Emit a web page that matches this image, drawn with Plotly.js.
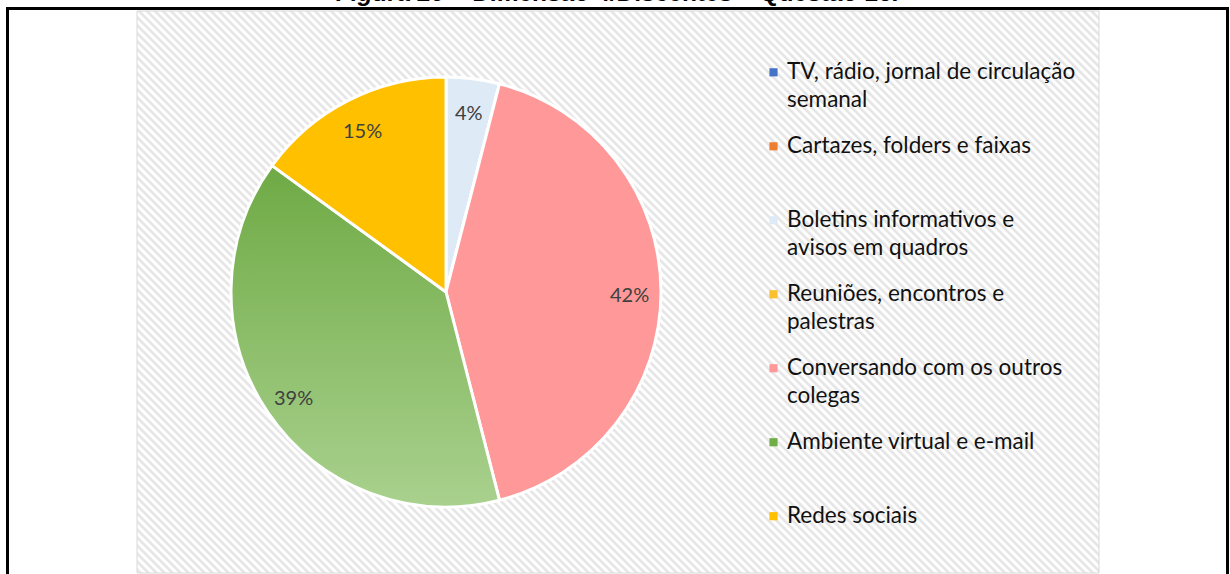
<!DOCTYPE html>
<html>
<head>
<meta charset="utf-8">
<script src="https://cdn.plot.ly/plotly-3.0.1.min.js"></script>
<style>
  html, body { margin: 0; padding: 0; background: #ffffff; }
  #chart { width: 1230px; height: 574px; }
</style>
</head>
<body>
<div id="chart"></div>
<script>
// ---- data ----
const categories = [
  "TV, rádio, jornal de circulação<br>semanal",
  "Cartazes, folders e faixas",
  "Boletins informativos e<br>avisos em quadros",
  "Reuniões, encontros e<br>palestras",
  "Conversando com os outros<br>colegas",
  "Ambiente virtual e e-mail",
  "Redes sociais"
];
const values = [0, 0, 4, 0, 42, 39, 15];
const sliceColors = ["#4472c4", "#ed7d31", "#deebf7", "#fbc02d", "#ff9999", "#70ad47", "#ffc000"];
const titleText = "<b><i>Figura 20</i> – Dimensão 4/Discentes – Questão 16.</b>";

// ---- layout helpers (style only) ----
const W = 1230, H = 574;
const px = x => x / W;
const py = y => 1 - y / H;

const pieCx = 446, pieCy = 292, pieR = 215;
const legendLinePx = 28;

// legend labels: larger glyphs, padded to equal line count for an even pitch
const legendLabels = categories.map((c, i) => {
  const lines = c.split("<br>").map(l => "<span style='font-size:22.5px'>" + l + "</span>");
  if (i < categories.length - 1) while (lines.length < 3) lines.push("&nbsp;");
  return lines.join("<br>");
});

// percent labels placed at slice mid-angles computed from the values
const total = values.reduce((a, b) => a + b, 0);
const annotations = [];
let cum = 0;
values.forEach((v, i) => {
  if (v > 0) {
    const mid = (cum + v / 2) / total * 2 * Math.PI;
    const rr = pieR * 0.855;
    const x = pieCx + rr * Math.sin(mid);
    const y = pieCy - rr * Math.cos(mid) + 2;
    annotations.push({
      xref: "paper", yref: "paper", x: px(x), y: py(y),
      text: Math.round(v / total * 100) + "%",
      showarrow: false, xanchor: "center", yanchor: "middle",
      font: {family: "Lato, 'Open Sans', sans-serif", size: 20, color: "#404040"}
    });
  }
  cum += v;
});

annotations.push({
  xref: "paper", yref: "paper", x: px(617), y: py(8),
  text: titleText, showarrow: false, xanchor: "center", yanchor: "bottom",
  font: {family: "Liberation Sans, Arial, sans-serif", size: 24.5, color: "#000000"}
});

const boxX0 = 137, boxY0 = 11, boxX1 = 1099, boxY1 = 573;
const bw = boxX1 - boxX0, bh = boxY1 - boxY0;
const hatchSvg = "<svg xmlns='http://www.w3.org/2000/svg' width='" + bw + "' height='" + bh + "'>" +
  "<defs><pattern id='p' width='5.66' height='5.66' patternUnits='userSpaceOnUse' patternTransform='rotate(-45)'>" +
  "<rect width='5.66' height='5.66' fill='#ffffff'/><rect width='2.6' height='5.66' fill='#e5e5e5'/></pattern></defs>" +
  "<rect width='" + bw + "' height='" + bh + "' fill='url(#p)'/></svg>";

const trace = {
  type: "pie",
  labels: legendLabels,
  values: values,
  sort: false,
  direction: "clockwise",
  rotation: 0,
  textinfo: "none",
  hoverinfo: "label+percent",
  marker: {colors: sliceColors, line: {color: "#ffffff", width: 3}},
  domain: {x: [px(pieCx - pieR), px(pieCx + pieR)], y: [py(pieCy + pieR), py(pieCy - pieR)]},
  showlegend: true
};

const layout = {
  width: W, height: H,
  margin: {l: 0, r: 0, t: 0, b: 0},
  paper_bgcolor: "rgba(0,0,0,0)",
  plot_bgcolor: "rgba(0,0,0,0)",
  font: {family: "Lato, 'Open Sans', sans-serif"},
  showlegend: true,
  legend: {
    x: px(747), y: py(54), xanchor: "left", yanchor: "top",
    valign: "top",
    bgcolor: "rgba(0,0,0,0)",
    font: {family: "Lato, 'Open Sans', sans-serif", size: 18.2, color: "#111111"},
    traceorder: "normal"
  },
  images: [{
    source: "data:image/svg+xml;charset=utf-8," + encodeURIComponent(hatchSvg),
    xref: "paper", yref: "paper",
    x: px(boxX0), y: py(boxY0), sizex: bw / W, sizey: bh / H,
    xanchor: "left", yanchor: "top", sizing: "stretch", layer: "below"
  }],
  shapes: [
    {type: "rect", xref: "paper", yref: "paper", x0: px(boxX0), x1: px(boxX1), y0: py(boxY0), y1: py(boxY1),
     line: {color: "#d9d9d9", width: 1}, layer: "below"},
    {type: "line", xref: "paper", yref: "paper", x0: px(7.5), x1: px(1227.5), y0: py(8.5), y1: py(8.5),
     line: {color: "#000000", width: 3}},
    {type: "line", xref: "paper", yref: "paper", x0: px(7.5), x1: px(7.5), y0: py(7), y1: py(620),
     line: {color: "#000000", width: 3}},
    {type: "line", xref: "paper", yref: "paper", x0: px(1227.5), x1: px(1227.5), y0: py(7), y1: py(620),
     line: {color: "#000000", width: 3}}
  ],
  annotations: annotations
};

Plotly.newPlot("chart", [trace], layout, {displayModeBar: false, staticPlot: true}).then(gd => {
  // vertical gradient on the green slice, as in the reference
  const svg = gd.querySelector(".main-svg");
  const ns = "http://www.w3.org/2000/svg";
  let defs = svg.querySelector("defs");
  if (!defs) { defs = document.createElementNS(ns, "defs"); svg.insertBefore(defs, svg.firstChild); }
  const grad = document.createElementNS(ns, "linearGradient");
  grad.setAttribute("id", "greenGrad");
  grad.setAttribute("x1", "0"); grad.setAttribute("y1", "0");
  grad.setAttribute("x2", "0"); grad.setAttribute("y2", "1");
  [["0", "#6faa45"], ["1", "#a9d18e"]].forEach(([o, c]) => {
    const s = document.createElementNS(ns, "stop");
    s.setAttribute("offset", o); s.setAttribute("stop-color", c);
    grad.appendChild(s);
  });
  defs.appendChild(grad);
  gd.querySelectorAll(".pielayer .slice").forEach(g => {
    const d = g.__data__;
    if (d && d.i === 5) {
      const p = g.querySelector("path.surface");
      if (p) p.style.fill = "url(#greenGrad)";
    }
  });
  // small square legend keys without the white outline
  gd.querySelectorAll(".legend .legendpoints path").forEach(p => {
    const t = p.getAttribute("transform") || "";
    p.setAttribute("transform", t + " translate(6.5,0) scale(0.68)");
    p.style.strokeWidth = "0px";
  });
  // wider line spacing inside legend entries, as in the reference
  gd.querySelectorAll(".legend text.legendtext").forEach(t => {
    t.querySelectorAll("tspan.line").forEach((ln, k) => {
      if (k === 0) return;
      const dy = ln.getAttribute("dy");
      if (dy && dy.endsWith("em")) {
        const em = parseFloat(dy);
        if (em) ln.setAttribute("dy", (em / 1.3 * legendLinePx) + "px");
      }
    });
  });
});
</script>
</body>
</html>
